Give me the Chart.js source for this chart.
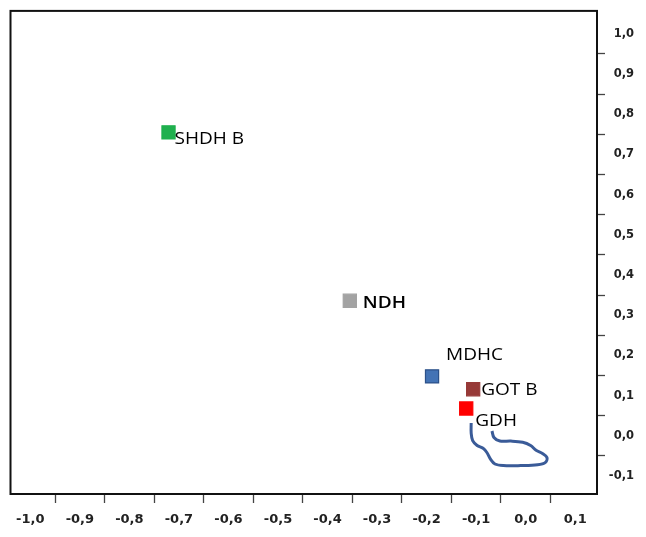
<!DOCTYPE html>
<html>
<head>
<meta charset="utf-8">
<script src="https://cdn.jsdelivr.net/npm/chart.js@4/dist/chart.umd.min.js"></script>
<style>
  html, body { margin: 0; padding: 0; background: #fff; }
  #wrap { width: 646px; height: 537px; }
</style>
</head>
<body>
<div id="wrap"><canvas id="canvas-plot"></canvas></div>
<script>
// named points
var pointNames = ['SHDH B', 'NDH', 'MDHC', 'GOT B', 'GDH'];
var pointX = [-0.721, -0.355, -0.189, -0.106, -0.120];
var pointY = [0.755, 0.336, 0.148, 0.116, 0.068];
var pointColors = ['#1fb04e', '#a3a3a3', '#4373b5', '#973a38', '#ff0000'];
var pointBorders = ['#1fb04e', '#a3a3a3', '#2c5189', '#973a38', '#ff0000'];

// hand drawn loop under GDH
var curveX = [-0.110, -0.110, -0.107, -0.098, -0.086, -0.078, -0.071, -0.062, -0.045,
              -0.010, 0.024, 0.040, 0.043, 0.034, 0.021, 0.010, -0.006, -0.030,
              -0.052, -0.064, -0.068];
var curveY = [0.032, 0.007, -0.012, -0.024, -0.031, -0.042, -0.058, -0.070, -0.074,
              -0.074, -0.072, -0.066, -0.054, -0.044, -0.036, -0.024, -0.016, -0.013,
              -0.013, -0.004, 0.012];

// tick labels and the tick marks between them
var xTickLabels = [-1.0, -0.9, -0.8, -0.7, -0.6, -0.5, -0.4, -0.3, -0.2, -0.1, 0.0, 0.1];
var xTickMarks = [-0.95, -0.85, -0.75, -0.65, -0.55, -0.45, -0.35, -0.25, -0.15, -0.05, 0.05];
var yTickLabels = [1.0, 0.9, 0.8, 0.7, 0.6, 0.5, 0.4, 0.3, 0.2, 0.1, 0.0, -0.1];
var yTickMarks = [0.95, 0.85, 0.75, 0.65, 0.55, 0.45, 0.35, 0.25, 0.15, 0.05, -0.05];

// label placement next to each marker (dx, dy of text centre)
var labelOffsets = [[6, 6], [13, 1], [14, -22], [8, 0], [9, 11.5]];

function isLabel(v, list) {
    for (var i = 0; i < list.length; i++) {
        if (Math.abs(list[i] - v) < 1e-6) return true;
    }
    return false;
}

function fmt(v) {
    return v.toFixed(1).replace('.', ',').replace('-0,0', '0,0');
}

function buildTicks(labels, marks) {
    var all = labels.concat(marks);
    all.sort(function(a, b) { return a - b; });
    return all.map(function(v) { return { value: v }; });
}

var points = [];
for (var i = 0; i < pointNames.length; i++) {
    points.push({ x: pointX[i], y: pointY[i] });
}
var curve = [];
for (var j = 0; j < curveX.length; j++) {
    curve.push({ x: curveX[j], y: curveY[j] });
}

// white background + frame + text labels
var framePlugin = {
    id: 'frame',
    beforeDraw: function(chart) {
        var c = chart.ctx;
        c.save();
        c.fillStyle = '#fff';
        c.fillRect(0, 0, chart.width, chart.height);
        c.restore();
    },
    beforeDatasetsDraw: function(chart) {
        var a = chart.chartArea;
        var c = chart.ctx;
        c.save();
        c.strokeStyle = '#111';
        c.lineWidth = 2;
        c.strokeRect(a.left, a.top, a.right - a.left, a.bottom - a.top);
        c.restore();
    },
    afterDatasetsDraw: function(chart) {
        var meta = chart.getDatasetMeta(1);
        var c = chart.ctx;
        c.save();
        c.fillStyle = '#000';
        c.textBaseline = 'alphabetic';
        c.textAlign = 'left';
        meta.data.forEach(function(el, k) {
            var off = labelOffsets[k];
            var weight = pointNames[k] === 'NDH' ? '600' : '500';
            c.save();
            c.translate(el.x + off[0], el.y + off[1] + 6);
            c.scale(1.12, 1);
            c.font = weight + ' 17px "Open Sans", sans-serif';
            c.fillText(pointNames[k], 0, 0);
            c.restore();
        });
        c.restore();
    }
};

var ctx = document.getElementById('canvas-plot').getContext('2d');
var myChart = new Chart(ctx, {
    type: 'scatter',
    data: {
        datasets: [{
            label: 'loop',
            data: curve,
            showLine: true,
            borderColor: '#3a5b98',
            borderWidth: 3,
            tension: 0.35,
            pointRadius: 0,
            fill: false
        }, {
            label: 'enzymes',
            data: points,
            pointStyle: 'rect',
            pointRadius: 9.3,
            pointHoverRadius: 9.3,
            backgroundColor: pointColors,
            borderColor: pointBorders,
            borderWidth: 1.2
        }]
    },
    options: {
        responsive: true,
        maintainAspectRatio: false,
        animation: false,
        events: [],
        layout: {
            padding: { left: 8, top: 9, right: 12, bottom: 0 }
        },
        plugins: {
            legend: { display: false },
            tooltip: { enabled: false }
        },
        scales: {
            x: {
                type: 'linear',
                position: 'bottom',
                min: -1.04,
                max: 0.144,
                afterBuildTicks: function(scale) {
                    scale.ticks = buildTicks(xTickLabels, xTickMarks);
                },
                afterFit: function(scale) {
                    scale.height = 43;
                },
                border: { display: false },
                grid: {
                    drawOnChartArea: false,
                    drawTicks: true,
                    tickLength: 9,
                    tickWidth: 1.3,
                    tickColor: function(c) {
                        return isLabel(c.tick.value, xTickMarks) ? '#444' : 'rgba(0,0,0,0)';
                    }
                },
                ticks: {
                    autoSkip: false,
                    maxRotation: 0,
                    padding: 9,
                    color: '#222',
                    font: { family: 'DejaVu Sans', size: 13, weight: 'bold' },
                    callback: function(v) {
                        return isLabel(v, xTickLabels) ? fmt(v) : '';
                    }
                }
            },
            y: {
                type: 'linear',
                position: 'right',
                min: -0.1446,
                max: 1.057,
                afterBuildTicks: function(scale) {
                    scale.ticks = buildTicks(yTickLabels, yTickMarks);
                },
                afterFit: function(scale) {
                    scale.width = 37;
                },
                border: { display: false },
                grid: {
                    drawOnChartArea: false,
                    drawTicks: true,
                    tickLength: 8,
                    tickWidth: 1.3,
                    tickColor: function(c) {
                        return isLabel(c.tick.value, yTickMarks) ? '#444' : 'rgba(0,0,0,0)';
                    }
                },
                ticks: {
                    autoSkip: false,
                    crossAlign: 'far',
                    padding: 4,
                    color: '#222',
                    font: { family: 'DejaVu Sans', size: 11.5, weight: 'bold' },
                    callback: function(v) {
                        return isLabel(v, yTickLabels) ? fmt(v) : '';
                    }
                }
            }
        }
    },
    plugins: [framePlugin]
});
</script>
</body>
</html>
